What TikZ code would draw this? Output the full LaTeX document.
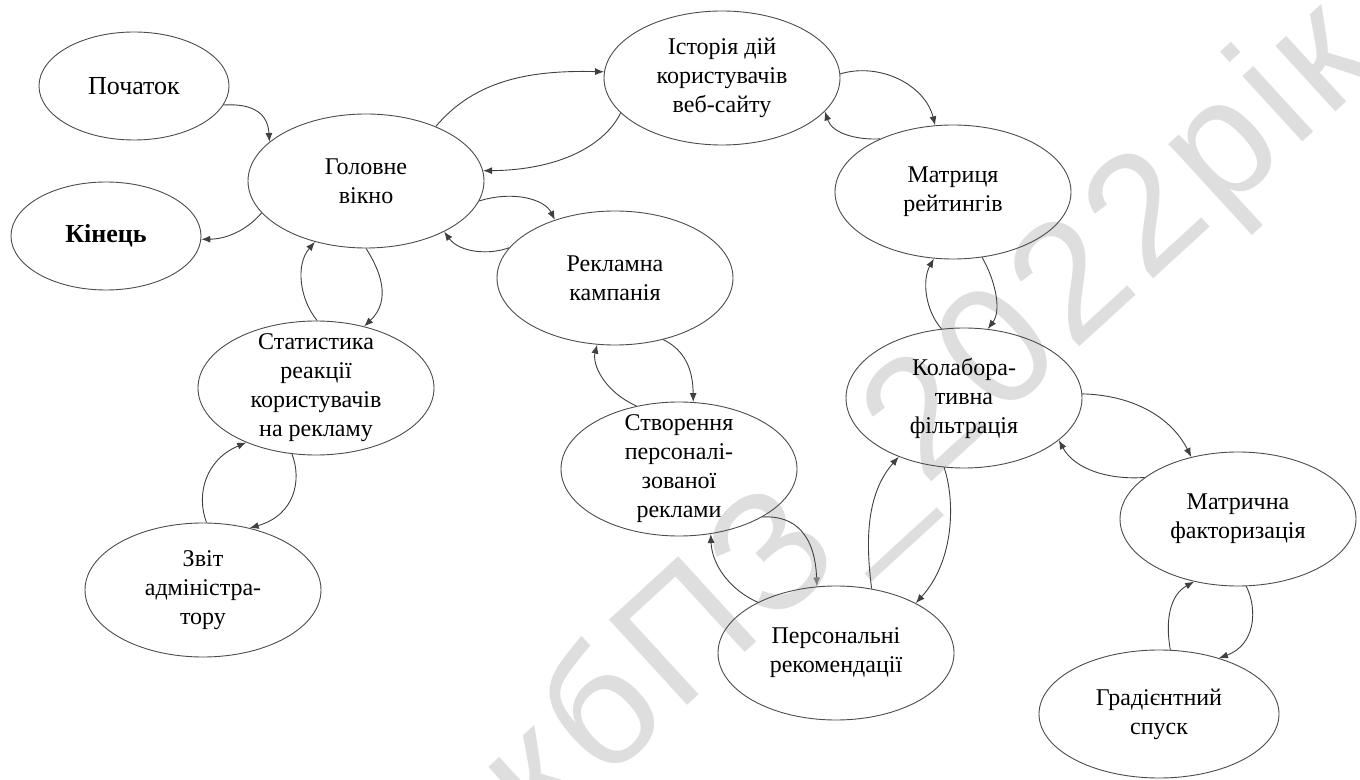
\documentclass[tikz,border=0pt]{standalone}
\usepackage{fontspec}
\setmainfont{Liberation Serif}
\newfontfamily\wmfont[LetterSpace=4]{Liberation Sans}
\usetikzlibrary{shapes.geometric,arrows.meta}
\begin{document}
\begin{tikzpicture}[x=0.5pt,y=-0.5pt,
  big/.style={ellipse,draw=black!70,line width=0.45pt,inner sep=0pt,minimum width=118pt,minimum height=67pt},
  small/.style={ellipse,draw=black!70,line width=0.45pt,inner sep=0pt,minimum width=95pt,minimum height=54pt},
  txt/.style={align=center,font=\fontsize{12}{14.5}\selectfont,inner sep=0pt},
  ltxt/.style={font=\fontsize{13}{15}\selectfont,inner sep=0pt},
  con/.style={draw=black!75,line width=0.45pt,-{Latex[length=4.5pt,width=3.5pt]}},
  wmark/.style={text=black!13,font=\wmfont\fontsize{84}{84}\selectfont,inner sep=0pt}
]
\useasboundingbox (0,0) rectangle (1360,780);
\fill[white] (0,0) rectangle (1360,780);
% watermark
\node[wmark,rotate=42.5] (wm) at (931,423) {кбПЗ\_2022рік};
% ellipses
\node[small] (P) at (134,86) {};
\node[small] (K) at (106,236) {};
\node[big] (G) at (366,181) {};
\node[big] (I) at (722,78) {};
\node[big] (M) at (953,192) {};
\node[big] (R) at (615,278) {};
\node[big] (S) at (316,388) {};
\node[big] (C) at (679,469) {};
\node[big,minimum height=70pt] (F) at (964,398) {};
\node[big] (MF) at (1238,519) {};
\node[big] (PR) at (836,653) {};
\node[big,minimum width=120pt,minimum height=64pt] (GS) at (1159,714) {};
\node[big] (Z) at (203,590) {};
% texts
\node[ltxt] (tP) at (P) {Початок};
\node[ltxt,font=\bfseries\fontsize{13}{15}\selectfont] (tK) at (K) {Кінець};
\node[txt] (tG) at (G) {Головне\\вікно};
\node[txt] (tI) at (I) {Історія дій\\користувачів\\веб-сайту};
\node[txt] (tM) at (M) {Матриця\\рейтингів};
\node[txt] (tR) at (R) {Рекламна\\кампанія};
\node[txt] (tS) at (S) {Статистика\\реакції\\користувачів\\на рекламу};
\node[txt] (tC) at (C) {Створення\\персоналі-\\зованої\\реклами};
\node[txt] (tF) at (F) {Колабора-\\тивна\\фільтрація};
\node[txt] (tMF) at (MF) {Матрична\\факторизація};
\node[txt] (tPR) at (PR) {Персональні\\рекомендації};
\node[txt] (tGS) at (GS) {Градієнтний\\спуск};
\node[txt] (tZ) at (Z) {Звіт\\адміністра-\\тору};
% connectors
\draw[con] (P.-12) .. controls (255,103) and (268,115) .. (G.158);
\draw[con] (G.-163) .. controls (245,232) and (225,239) .. (K.-2);
\draw[con] (G.38) .. controls (475,80) and (530,70) .. (I.177);
\draw[con] (I.-161) .. controls (605,145) and (560,170) .. (G.5);
\draw[con] (G.-10) .. controls (515,190) and (545,200) .. (R.136);
\draw[con] (R.164) .. controls (490,255) and (460,253) .. (G.-33);
\draw[con] (G.-90) .. controls (380,270) and (392,300) .. (S.52);
\draw[con] (S.89) .. controls (300,300) and (295,265) .. (G.-130);
\draw[con] (I.2) .. controls (880,62) and (925,85) .. (M.105);
\draw[con] (M.144) .. controls (855,140) and (832,133) .. (I.-18);
\draw[con] (F.108) .. controls (925,310) and (922,280) .. (M.-106);
\draw[con] (M.-66) .. controls (995,280) and (1002,310) .. (F.71);
\draw[con] (R.-52) .. controls (685,350) and (693,370) .. (C.78);
\draw[con] (C.124) .. controls (605,392) and (592,365) .. (R.-105);
\draw[con,-{Latex[length=4.5pt,width=3.5pt,color=black!50]}] (C.-30) .. controls (795,515) and (815,535) .. (PR.106);
\draw[con] (PR.147) .. controls (730,590) and (712,565) .. (C.-64);
\draw[con] (PR.61) .. controls (866,545) and (865,495) .. (F.-138);
\draw[con] (F.-106) .. controls (955,500) and (955,560) .. (PR.32);
\draw[con] (F.2) .. controls (1130,395) and (1170,415) .. (MF.127);
\draw[con] (MF.156) .. controls (1110,480) and (1075,470) .. (F.-24);
\draw[con] (GS.80) .. controls (1165,620) and (1170,595) .. (MF.-125);
\draw[con] (MF.-83) .. controls (1258,610) and (1255,645) .. (GS.43);
\draw[con] (S.-110) .. controls (302,480) and (295,515) .. (Z.53);
\draw[con] (Z.87) .. controls (196,495) and (205,460) .. (S.-142);
\end{tikzpicture}
\end{document}
